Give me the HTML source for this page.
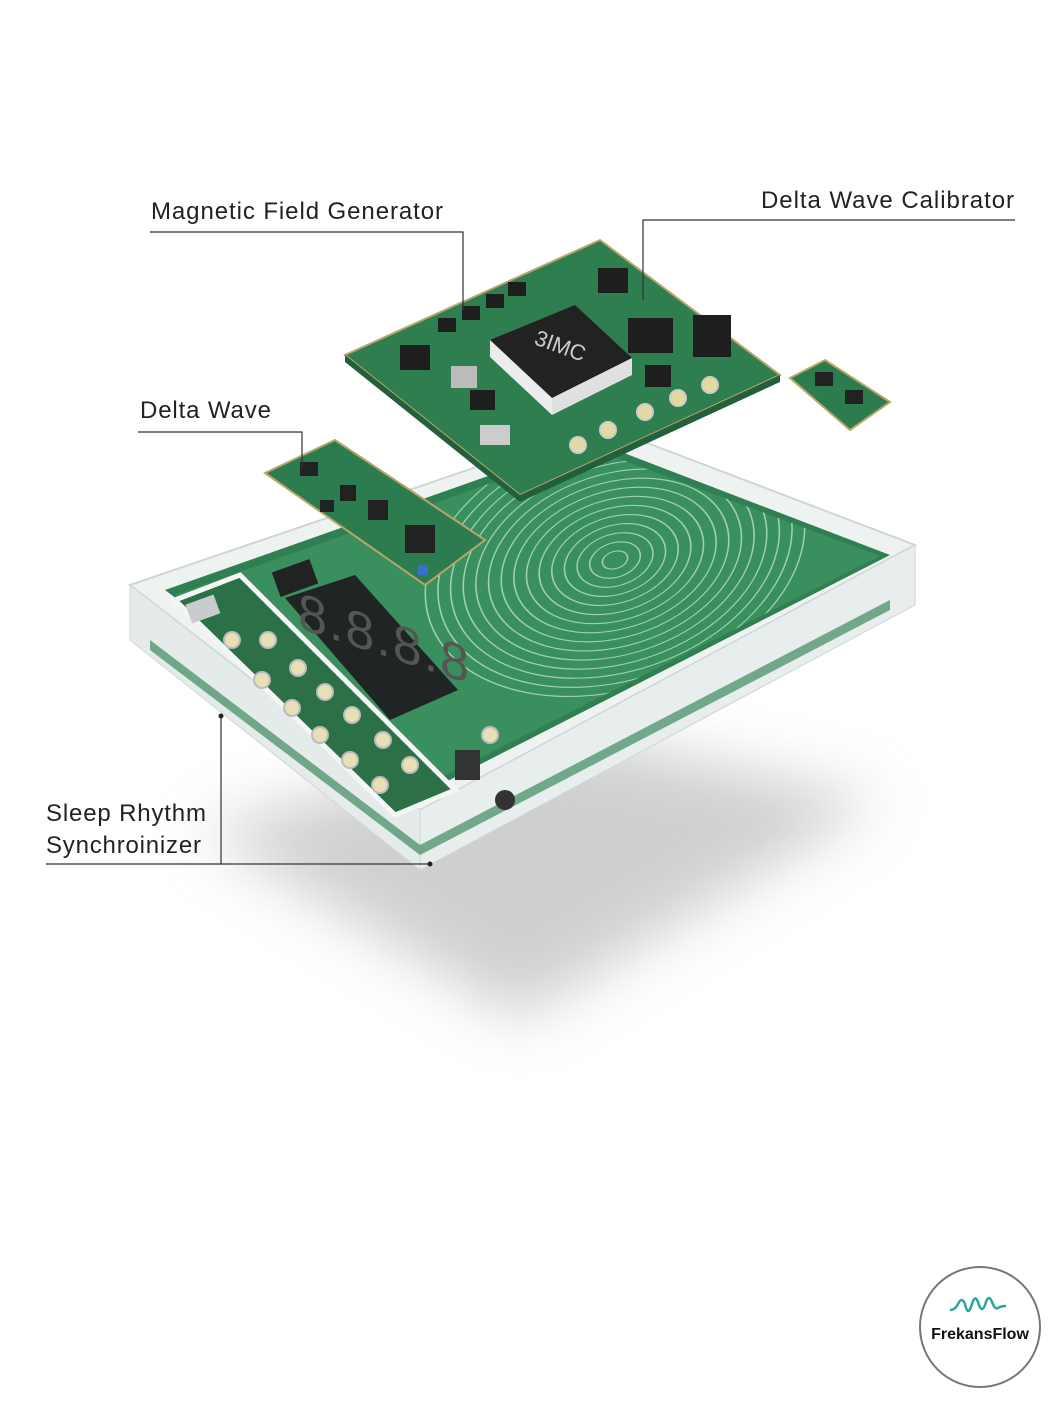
<!DOCTYPE html>
<html><head><meta charset="utf-8"><style>
html,body{margin:0;padding:0;background:#fff;}
svg{display:block}
text{font-family:"Liberation Sans",sans-serif;}
</style></head><body>
<svg width="1054" height="1401" viewBox="0 0 1054 1401" xmlns="http://www.w3.org/2000/svg">
<defs>
<filter id="blur" x="-30%" y="-30%" width="160%" height="160%"><feGaussianBlur stdDeviation="30"/></filter>
<clipPath id="pcb"><polygon points="175,595 590,448 880,556 432,782"/></clipPath>
</defs>
<rect width="1054" height="1401" fill="#ffffff"/>
<!-- shadow -->
<polygon points="200,830 560,730 880,800 520,1020" fill="#c4c4c4" filter="url(#blur)" opacity="0.8"/>
<!-- acrylic case -->
<polygon points="130,585 600,425 915,545 420,810" fill="#eef3f2" stroke="#cfd6d5" stroke-width="2"/>
<polygon points="130,585 420,810 420,870 130,640" fill="#e4ebea" stroke="#cfd6d5"/>
<polygon points="420,810 915,545 915,605 420,870" fill="#e8eeed" stroke="#cfd6d5"/>
<polygon points="150,640 420,845 420,855 150,650" fill="#3f8a5f" opacity="0.7"/>
<polygon points="420,845 890,600 890,610 420,855" fill="#3f8a5f" opacity="0.7"/>
<!-- green PCB -->
<polygon points="165,590 590,440 890,555 430,790" fill="#2f7f52"/>
<polygon points="175,595 590,448 880,556 432,782" fill="#3a8f5e"/>
<!-- spiral -->
<g clip-path="url(#pcb)">
<g transform="translate(615,560) rotate(-18) scale(1,0.66)" fill="none" stroke="#9fd0b4" stroke-width="1.6">
<circle r="195"/><circle r="182"/><circle r="169"/><circle r="156"/><circle r="143"/><circle r="130"/><circle r="117"/><circle r="104"/><circle r="91"/><circle r="78"/><circle r="65"/><circle r="52"/><circle r="39"/><circle r="26"/><circle r="13"/>
</g></g>
<!-- left button column -->
<polygon points="175,600 240,575 455,790 395,815" fill="#2b7047" stroke="#f3f6f5" stroke-width="5"/>
<g fill="#e7dfb5" stroke="#bbb" stroke-width="2">
<circle cx="232" cy="640" r="8"/><circle cx="268" cy="640" r="8"/><circle cx="262" cy="680" r="8"/><circle cx="298" cy="668" r="8"/><circle cx="292" cy="708" r="8"/><circle cx="325" cy="692" r="8"/><circle cx="320" cy="735" r="8"/><circle cx="352" cy="715" r="8"/><circle cx="350" cy="760" r="8"/><circle cx="383" cy="740" r="8"/><circle cx="410" cy="765" r="8"/><circle cx="380" cy="785" r="8"/><circle cx="490" cy="735" r="8"/>
</g>
<rect x="188" y="600" width="30" height="20" fill="#c9cbcc" transform="rotate(-20 200 610)"/>
<!-- display -->
<polygon points="285,598 355,575 458,690 390,720" fill="#202424"/>
<text x="0" y="0" font-size="52" fill="#555" transform="translate(298,628) skewY(18)" letter-spacing="2">8.8.8.8</text>
<rect x="275" y="565" width="40" height="26" fill="#222" transform="rotate(-20 295 578)"/>
<circle cx="505" cy="800" r="10" fill="#333"/>
<rect x="455" y="750" width="25" height="30" fill="#333"/>
<!-- delta wave board -->
<polygon points="265,473 335,440 485,540 425,585" fill="#2d7c4f" stroke="#b8a56a" stroke-width="2"/>
<g fill="#222"><rect x="300" y="462" width="18" height="14"/><rect x="340" y="485" width="16" height="16"/><rect x="368" y="500" width="20" height="20"/><rect x="405" y="525" width="30" height="28"/><rect x="320" y="500" width="14" height="12"/></g>
<rect x="418" y="565" width="10" height="10" fill="#3a6fd0"/>
<!-- top board -->
<polygon points="345,355 600,240 780,375 520,495" fill="#2e7e50" stroke="#b8a56a" stroke-width="2"/>
<polygon points="345,355 520,495 520,502 345,362" fill="#225f3d"/>
<polygon points="520,495 780,375 780,382 520,502" fill="#225f3d"/>
<polygon points="490,340 575,305 632,358 552,398" fill="#222"/>
<polygon points="490,340 552,398 552,415 490,357" fill="#ececec"/>
<polygon points="552,398 632,358 632,375 552,415" fill="#e0e0e0"/>
<text x="532" y="350" font-size="22" fill="#ccc" transform="rotate(20 550 350)">3IMC</text>
<g fill="#1e1e1e">
<rect x="438" y="318" width="18" height="14"/><rect x="462" y="306" width="18" height="14"/><rect x="486" y="294" width="18" height="14"/><rect x="508" y="282" width="18" height="14"/>
<rect x="628" y="318" width="45" height="35"/><rect x="598" y="268" width="30" height="25"/><rect x="645" y="365" width="26" height="22"/>
<rect x="693" y="315" width="38" height="42"/><rect x="470" y="390" width="25" height="20"/><rect x="400" y="345" width="30" height="25"/>
</g>
<rect x="451" y="366" width="26" height="22" fill="#bbb"/>
<rect x="480" y="425" width="30" height="20" fill="#ccc"/>
<g fill="#e2d9a5" stroke="#ccc" stroke-width="2">
<circle cx="578" cy="445" r="8"/><circle cx="608" cy="430" r="8"/><circle cx="645" cy="412" r="8"/><circle cx="678" cy="398" r="8"/><circle cx="710" cy="385" r="8"/>
</g>
<!-- right small board -->
<polygon points="790,378 825,360 890,402 850,430" fill="#2d7c4f" stroke="#b8a56a" stroke-width="2"/>
<rect x="815" y="372" width="18" height="14" fill="#222"/><rect x="845" y="390" width="18" height="14" fill="#222"/>
<!-- labels -->
<g stroke="#333" stroke-width="1.2" fill="none">
<polyline points="150,232 463,232 463,310"/>
<polyline points="1015,220 643,220 643,300"/>
<polyline points="138,432 302,432 302,470"/>
<polyline points="46,864 221,864 221,718"/>
<line x1="221" y1="864" x2="430" y2="864"/>
</g>
<circle cx="221" cy="716" r="2.5" fill="#222"/><circle cx="430" cy="864" r="2.5" fill="#222"/>
<g font-size="24" fill="#222">
<text x="151" y="219" textLength="292">Magnetic Field Generator</text>
<text x="761" y="208" textLength="253">Delta Wave Calibrator</text>
<text x="140" y="418" textLength="131">Delta Wave</text>
<text x="46" y="821" textLength="160">Sleep Rhythm</text>
<text x="46" y="853" textLength="155">Synchroinizer</text>
</g>
<!-- logo -->
<circle cx="980" cy="1327" r="60" fill="#fff" stroke="#777" stroke-width="2"/>
<path d="M950,1310 q5,0 8,-6 q4,-8 7,0 q3,14 7,0 q3,-10 6,-2 q4,14 8,0 q3,-8 6,0 q3,8 6,6 q3,-2 8,-2" fill="none" stroke="#2aa6a0" stroke-width="2.5"/>
<text x="980" y="1339" font-size="16" font-weight="bold" text-anchor="middle" fill="#111">FrekansFlow</text>
</svg>
</body></html>
